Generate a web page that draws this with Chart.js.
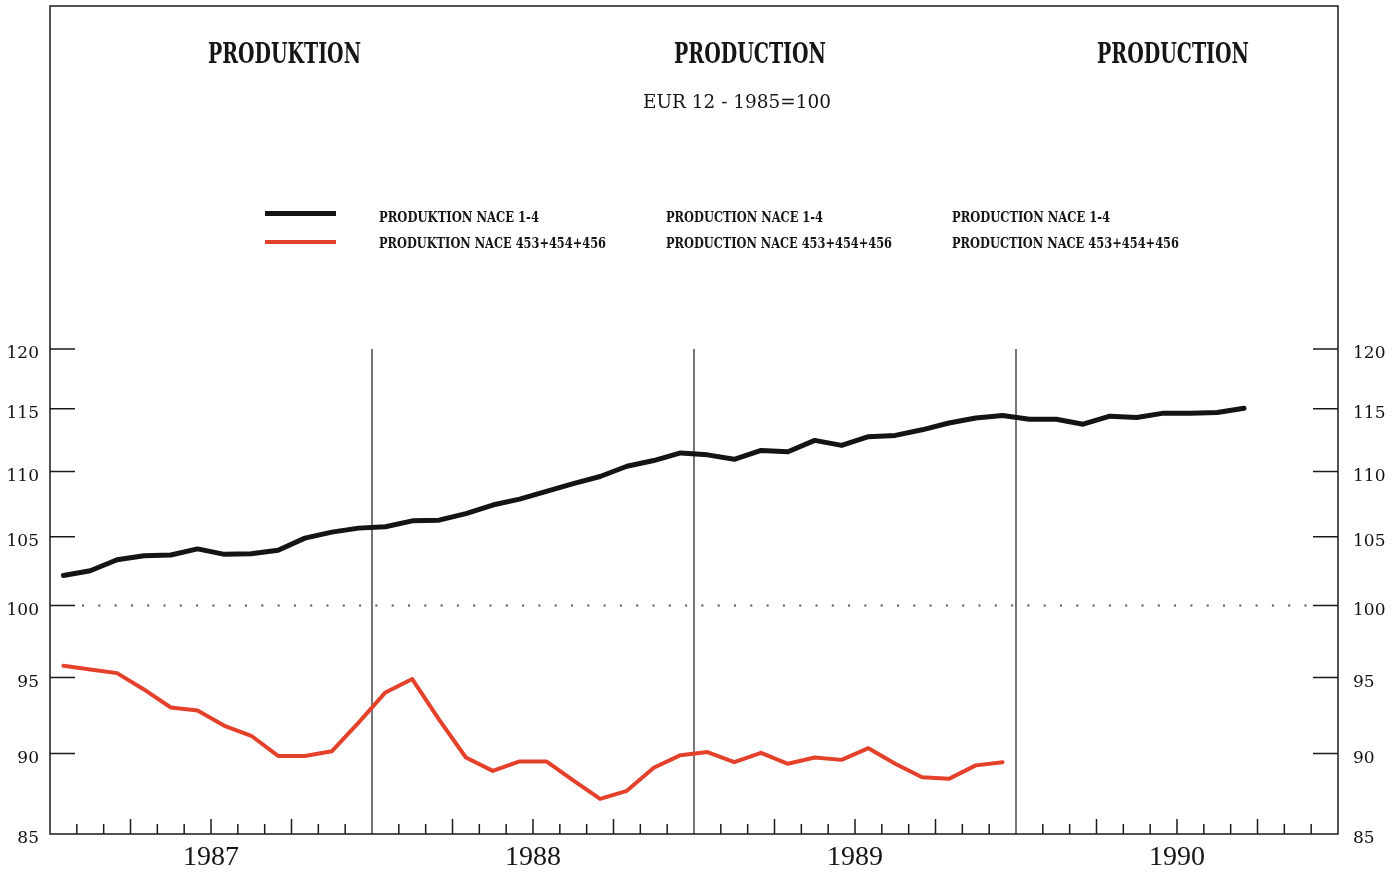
<!DOCTYPE html>
<html>
<head>
<meta charset="utf-8">
<script src="https://cdn.jsdelivr.net/npm/chart.js@4/dist/chart.umd.min.js"></script>
<style>
  html, body { margin: 0; padding: 0; background: #fff; }
  #wrap { position: relative; width: 1395px; height: 872px; overflow: hidden; }
  #chart { position: absolute; left: 0; top: 0; }
  .txt { position: absolute; white-space: nowrap; color: #151515; transform-origin: 0 0;
         font-family: "DejaVu Serif", serif; }
  .ttl { font-size: 27px; line-height: 27px; font-weight: bold; top: 40px; }
  .sub { font-size: 19px; line-height: 19px; top: 92px; }
  .leg { font-size: 15px; line-height: 15px; font-weight: bold; }
  .swatch { position: absolute; left: 265px; width: 71px; }
</style>
</head>
<body>
<div id="wrap">
  <canvas id="chart" width="1395" height="872"></canvas>

  <div class="txt ttl" style="left:208px" data-w="153">PRODUKTION</div>
  <div class="txt ttl" style="left:674px" data-w="152">PRODUCTION</div>
  <div class="txt ttl" style="left:1097px" data-w="152">PRODUCTION</div>
  <div class="txt sub" style="left:643px" data-w="188">EUR 12 - 1985=100</div>

  <div class="swatch" style="top:211px;height:5px;background:#141414"></div>
  <div class="swatch" style="top:240px;height:4px;background:#e4412b"></div>
  <div class="txt leg" style="left:379px;top:210px" data-w="160">PRODUKTION NACE 1-4</div>
  <div class="txt leg" style="left:379px;top:236px" data-w="227">PRODUKTION NACE 453+454+456</div>
  <div class="txt leg" style="left:666px;top:210px" data-w="157">PRODUCTION NACE 1-4</div>
  <div class="txt leg" style="left:666px;top:236px" data-w="226">PRODUCTION NACE 453+454+456</div>
  <div class="txt leg" style="left:952px;top:210px" data-w="158">PRODUCTION NACE 1-4</div>
  <div class="txt leg" style="left:952px;top:236px" data-w="227">PRODUCTION NACE 453+454+456</div>
</div>

<script>
// Monthly production index, EUR 12, 1985=100, Jan 1987 onwards.
const years = ["1987", "1988", "1989", "1990"]
const monthsPerYear = 12

// NACE 1-4 (black), Jan 1987 .. Sep 1990
const nace14 = [
  102.15, 102.5, 103.3, 103.6, 103.65, 104.1, 103.7, 103.75, 104.0, 104.9, 105.35, 105.65,
  105.75, 106.2, 106.25, 106.75, 107.4, 107.85, 108.45, 109.05, 109.6, 110.4, 110.85, 111.45,
  111.3, 110.95, 111.65, 111.55, 112.45, 112.05, 112.75, 112.85, 113.3, 113.85, 114.25, 114.45,
  114.15, 114.15, 113.75, 114.4, 114.3, 114.65, 114.65, 114.7, 115.05
]

// NACE 453+454+456 (red), Jan 1987 .. Dec 1989
const nace453 = [
  95.8, 95.55, 95.3, 94.2, 93.0, 92.8, 91.8, 91.15, 89.85, 89.85, 90.15, 92.0,
  94.0, 94.9, 92.2, 89.75, 88.9, 89.5, 89.5, 88.3, 87.15, 87.65, 89.1, 89.9,
  90.1, 89.45, 90.05, 89.35, 89.75, 89.6, 90.35, 89.35, 88.5, 88.4, 89.25, 89.45
]

const yTicks = [85, 90, 95, 100, 105, 110, 115, 120]
const baseLevel = 100
const seriesNames = ["PRODUKTION NACE 1-4", "PRODUKTION NACE 453+454+456"]

// squeeze the html labels to the widths of the condensed print type
document.querySelectorAll("[data-w]").forEach((el) => {
  const w = el.getBoundingClientRect().width
  el.style.transform = "scaleX(" + (Number(el.dataset.w) / w) + ")"
})

// each value sits in the middle of its month
const toPoints = (arr) => arr.map((v, i) => ({ x: i + 0.5, y: v }))
const totalMonths = years.length * monthsPerYear

// frame, inside ticks, year separators and the dotted 100 line
const framePlugin = {
  id: "frame",
  beforeDatasetsDraw(chart) {
    const { ctx, chartArea: a, scales } = chart
    const x = scales.x, y = scales.y
    ctx.save()
    ctx.strokeStyle = "#1a1a1a"

    ctx.lineWidth = 1.5
    ctx.strokeRect(a.left, 6, a.right - a.left, a.bottom - 6)

    // y ticks point inwards from both sides
    yTicks.forEach((v) => {
      if (v === yTicks[0]) return
      const py = y.getPixelForValue(v)
      ctx.beginPath()
      ctx.moveTo(a.left, py); ctx.lineTo(a.left + 25, py)
      ctx.moveTo(a.right - 25, py); ctx.lineTo(a.right, py)
      ctx.stroke()
    })

    // month ticks, longer at quarters
    for (let m = 1; m < totalMonths; m++) {
      if (m % monthsPerYear === 0) continue
      const px = x.getPixelForValue(m)
      const len = m % 3 === 0 ? 15 : 10
      ctx.beginPath()
      ctx.moveTo(px, a.bottom); ctx.lineTo(px, a.bottom - len)
      ctx.stroke()
    }

    // year separators
    ctx.lineWidth = 1.2
    for (let m = monthsPerYear; m < totalMonths; m += monthsPerYear) {
      const px = x.getPixelForValue(m)
      ctx.beginPath()
      ctx.moveTo(px, a.top); ctx.lineTo(px, a.bottom)
      ctx.stroke()
    }

    // dotted reference line at 100
    const py = y.getPixelForValue(baseLevel)
    ctx.strokeStyle = "#555"
    ctx.lineWidth = 2
    ctx.setLineDash([2, 14.3])
    ctx.beginPath()
    ctx.moveTo(a.left + 32, py); ctx.lineTo(a.right - 25, py)
    ctx.stroke()
    ctx.restore()
  }
}

const yAxis = (position, width, padding) => ({
  type: "logarithmic",
  position,
  min: yTicks[0],
  max: yTicks[yTicks.length - 1],
  afterBuildTicks: (s) => { s.ticks = yTicks.map((v) => ({ value: v })) },
  afterFit: (s) => { s.width = width },
  grid: { display: false, drawTicks: false },
  border: { display: false },
  ticks: {
    padding,
    labelOffset: 5,
    color: "#111",
    font: { family: "DejaVu Serif", size: 17 },
    callback: (v) => String(v)
  }
})

new Chart(document.getElementById("chart"), {
  type: "line",
  data: {
    datasets: [
      {
        label: seriesNames[0],
        data: toPoints(nace14),
        borderColor: "#141414",
        borderWidth: 5,
        pointRadius: 0,
        borderJoinStyle: "round",
        borderCapStyle: "round",
        tension: 0
      },
      {
        label: seriesNames[1],
        data: toPoints(nace453),
        borderColor: "#e4412b",
        borderWidth: 4,
        pointRadius: 0,
        borderJoinStyle: "round",
        borderCapStyle: "round",
        tension: 0
      }
    ]
  },
  options: {
    responsive: false,
    animation: false,
    layout: { padding: { top: 349 } },
    plugins: {
      legend: { display: false },
      tooltip: { enabled: false }
    },
    scales: {
      x: {
        type: "linear",
        min: 0,
        max: totalMonths,
        afterBuildTicks: (s) => { s.ticks = years.map((_, i) => ({ value: i * monthsPerYear + 6 })) },
        afterFit: (s) => { s.height = 38 },
        grid: { display: false, drawTicks: false },
        border: { display: false },
        ticks: {
          autoSkip: false,
          maxRotation: 0,
          padding: 7,
          color: "#151515",
          font: { family: "Liberation Serif", size: 28 },
          callback: (v, i) => years[i]
        }
      },
      y: yAxis("left", 50, 11),
      y2: yAxis("right", 57, 15)
    }
  },
  plugins: [framePlugin]
})
</script>
</body>
</html>
